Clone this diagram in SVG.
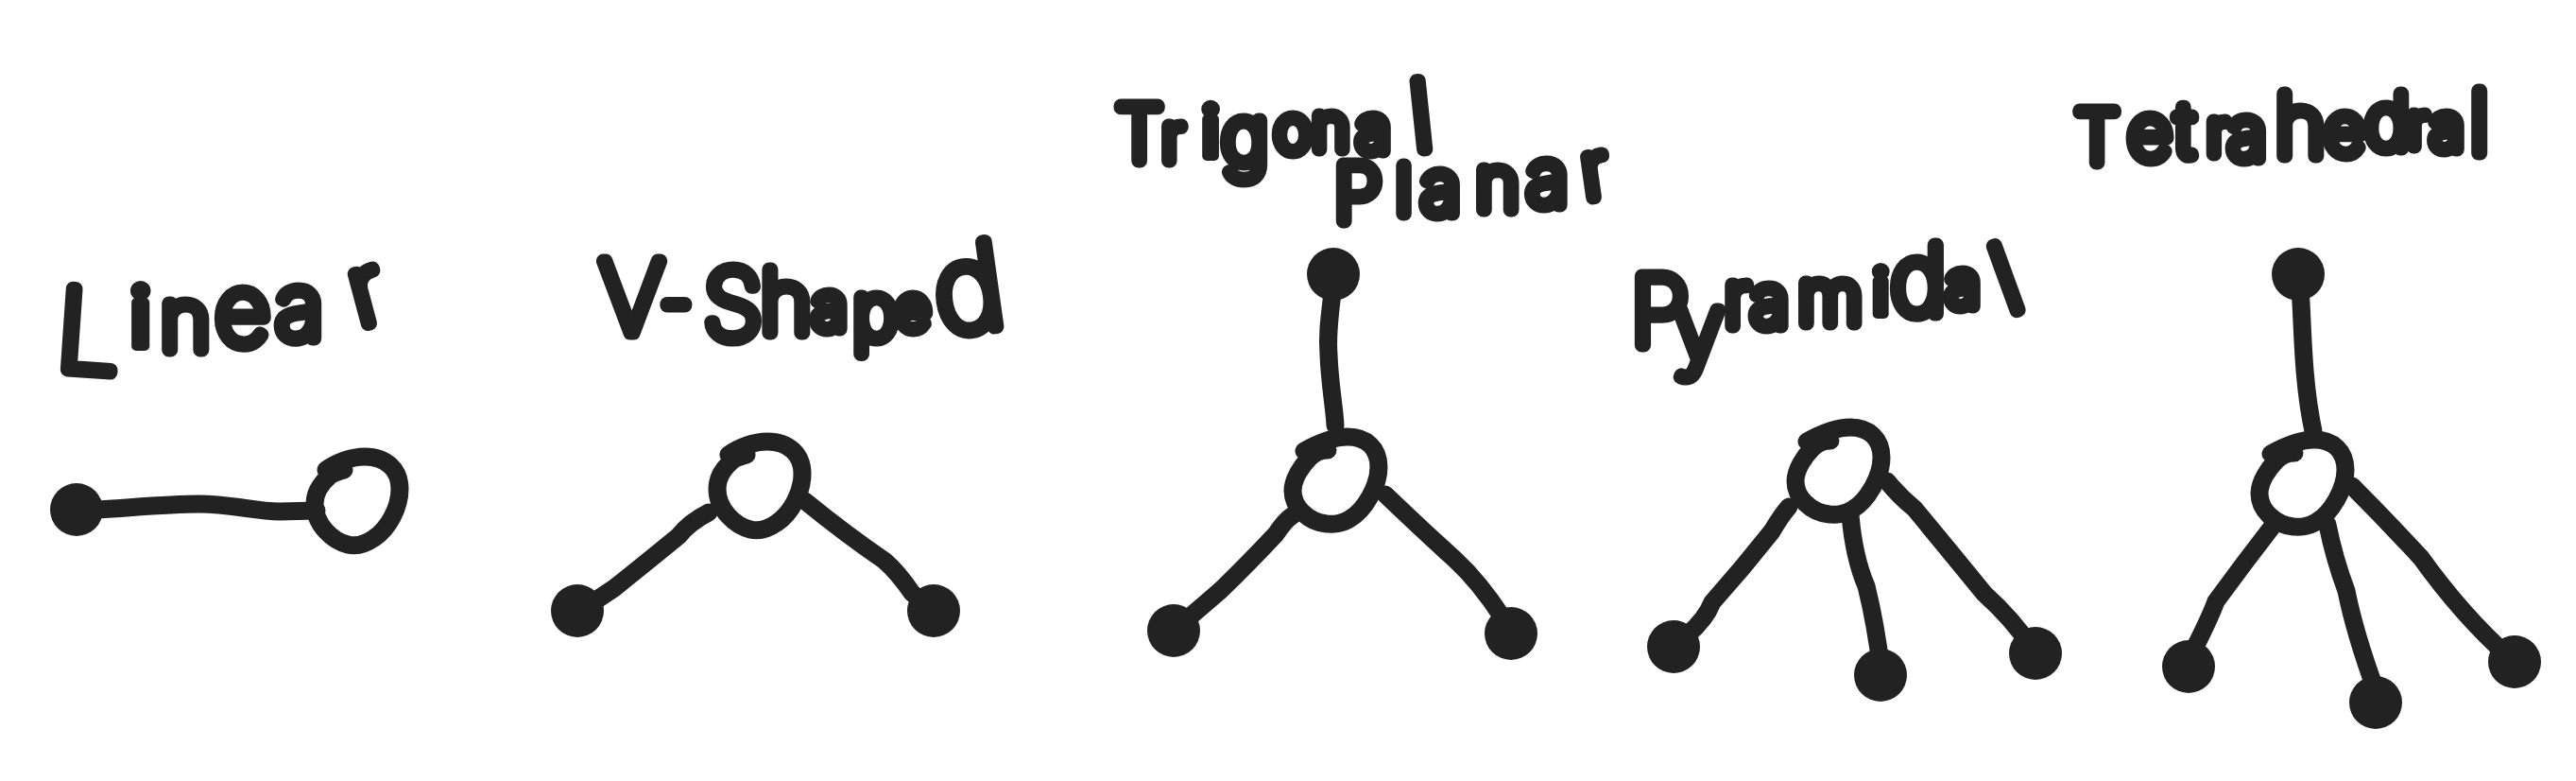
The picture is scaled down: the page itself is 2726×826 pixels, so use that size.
<svg xmlns="http://www.w3.org/2000/svg" width="2726" height="826" viewBox="0 0 2726 826">
<style>
.bond,.ring{fill:none;stroke:#222;stroke-width:19;stroke-linecap:round;stroke-linejoin:round}
.ball{fill:#222}
.h{font-family:"Inter","Roboto","DejaVu Sans",sans-serif;font-weight:100;fill:#222;stroke:#222;stroke-width:15;stroke-linejoin:round;stroke-linecap:round}
.i{font-weight:500;stroke-width:10}
</style>
<defs>
<path id="ringA" class="ring" d="M21 22C32 14 48 8 62 8C85 8 99 22 99 42C99 62 87 84 72 94C62 101 52 103 44 101C28 97 9 80 9 58C9 46 16 36 24 29C28 25 34 24 40 22"/>
<path id="ringB" class="ring" d="M20 23C38 13 52 8 66 8C86 8 99 20 99 40C99 60 84 86 68 95C60 100 50 101 44 100C24 98 8 82 8 65C8 52 18 38 26 30C31 25 36 22 45 22"/>
</defs>
<rect width="2726" height="826" fill="#fff"/>
<g id="connectors">
<path class="bond" d="M81 540C120 539 170 533 211 533C245 533 270 541 296 541L335 540"/>
<path class="bond" d="M750 542Q730 552 718 567Q690 590 650 622L611 648"/>
<path class="bond" d="M852 530Q895 565 936 593Q950 605 965 627L988 646"/>
<path class="bond" d="M1411 300C1408 330 1404 350 1406 375C1407 405 1412 430 1413 450"/>
<path class="bond" d="M1368 545Q1360 550 1350 565Q1320 597 1292 624L1242 667"/>
<path class="bond" d="M1466 523Q1510 565 1540 592Q1565 615 1590 653"/>
<path class="bond" d="M1893 536Q1885 545 1875 562Q1845 600 1812 637Q1805 655 1785 672"/>
<path class="bond" d="M1958 545Q1962 590 1975 620Q1985 660 1991 710"/>
<path class="bond" d="M1997 509Q2010 525 2026 538Q2065 585 2100 628Q2130 655 2150 685"/>
<path class="bond" d="M2434 305C2437 340 2436 400 2448 456"/>
<path class="bond" d="M2406 555Q2375 595 2345 636Q2338 655 2320 690"/>
<path class="bond" d="M2463 555Q2470 590 2483 625Q2492 670 2514 730"/>
<path class="bond" d="M2489 514Q2525 550 2562 590Q2605 650 2655 695"/>
</g>
<g id="linear">
<circle class="ball" cx="81" cy="539" r="28"/>
<use href="#ringA" x="324" y="475"/>
<text class="h" font-size="85"><tspan font-size="118" x="58" y="390" rotate="4">L</tspan><tspan class="i" x="138" y="366">i</tspan><tspan font-size="90" x="170" y="370">n</tspan><tspan font-size="100" x="228" y="364">e</tspan><tspan font-size="95" x="292" y="358">a</tspan><tspan font-size="100" x="380" y="345" rotate="-15">r</tspan></text>
</g>
<g id="v-shaped">
<circle class="ball" cx="611" cy="646" r="28"/>
<circle class="ball" cx="988" cy="646" r="28"/>
<use href="#ringA" x="750" y="459"/>
<text class="h" font-size="68"><tspan font-size="105" x="635" y="352">V</tspan><tspan font-size="70" x="700" y="344">-</tspan><tspan font-size="100" x="745" y="358">S</tspan><tspan font-size="92" x="805" y="352">h</tspan><tspan x="860" y="348">a</tspan><tspan font-size="80" x="903" y="358">p</tspan><tspan font-size="62" x="948" y="348">e</tspan><tspan font-size="125" x="995" y="354" rotate="-8">d</tspan></text>
</g>
<g id="trigonal-planar">
<circle class="ball" cx="1411" cy="290" r="28"/>
<circle class="ball" cx="1242" cy="667" r="28"/>
<circle class="ball" cx="1599" cy="670" r="28"/>
<use href="#ringB" x="1360" y="454"/>
<text class="h" font-size="66"><tspan font-size="80" x="1181" y="170">T</tspan><tspan font-size="68" x="1230" y="170">r</tspan><tspan class="i" font-size="72" x="1272" y="165">i</tspan><tspan font-size="84" x="1293" y="173">g</tspan><tspan x="1349" y="160">o</tspan><tspan x="1389" y="158">n</tspan><tspan x="1436" y="160">a</tspan><tspan font-size="100" x="1497" y="159" rotate="-6">l</tspan></text>
<text class="h" font-size="82"><tspan font-size="82" x="1412" y="234">P</tspan><tspan font-size="70" x="1478" y="226">l</tspan><tspan font-size="78" x="1504" y="226">a</tspan><tspan font-size="78" x="1562" y="222">n</tspan><tspan x="1616" y="217">a</tspan><tspan font-size="80" x="1678" y="210" rotate="-8">r</tspan></text>
</g>
<g id="pyramidal">
<circle class="ball" cx="1771" cy="684" r="28"/>
<circle class="ball" cx="1990" cy="714" r="28"/>
<circle class="ball" cx="2154" cy="691" r="28"/>
<use href="#ringB" x="1892" y="444"/>
<text class="h" font-size="75"><tspan font-size="100" x="1726" y="365">P</tspan><tspan font-size="95" x="1772" y="380">y</tspan><tspan font-size="80" x="1825" y="345">r</tspan><tspan x="1853" y="345">a</tspan><tspan font-size="78" x="1903" y="342">m</tspan><tspan class="i" font-size="65" x="1982" y="332">i</tspan><tspan font-size="100" x="2001" y="332">d</tspan><tspan font-size="66" x="2060" y="324">a</tspan><tspan font-size="100" x="2125" y="332" rotate="-20">l</tspan></text>
</g>
<g id="tetrahedral">
<circle class="ball" cx="2432" cy="290" r="28"/>
<circle class="ball" cx="2316" cy="705" r="28"/>
<circle class="ball" cx="2514" cy="743" r="28"/>
<circle class="ball" cx="2661" cy="700" r="28"/>
<use href="#ringB" x="2383" y="457"/>
<text class="h" font-size="76"><tspan font-size="75" x="2196" y="172">T</tspan><tspan font-size="80" x="2252" y="168">e</tspan><tspan font-size="76" x="2303" y="165">t</tspan><tspan font-size="64" x="2336" y="163">r</tspan><tspan x="2358" y="168">a</tspan><tspan font-size="90" x="2408" y="165">h</tspan><tspan font-size="74" x="2460" y="163">e</tspan><tspan font-size="80" x="2503" y="157">d</tspan><tspan font-size="62" x="2548" y="155">r</tspan><tspan font-size="66" x="2572" y="158">a</tspan><tspan font-size="90" x="2614" y="162">l</tspan></text>
</g>
</svg>
